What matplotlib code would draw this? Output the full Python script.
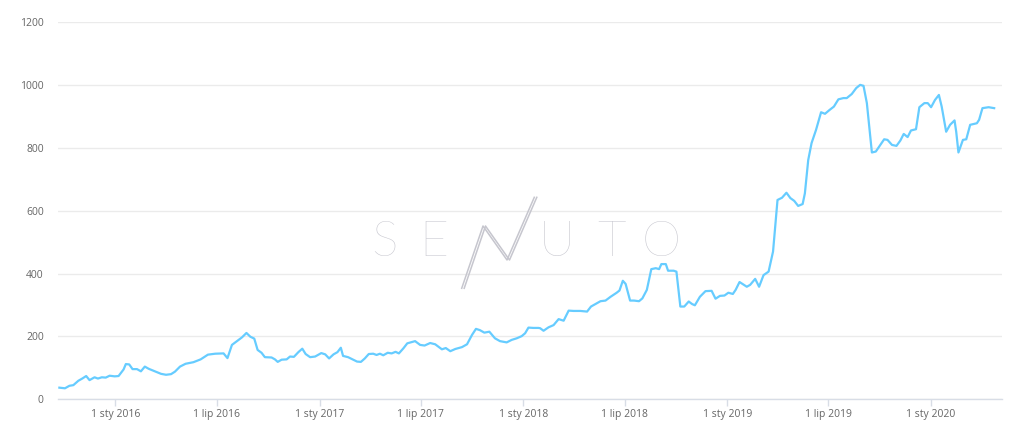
import matplotlib
matplotlib.use("Agg")

import matplotlib.pyplot as plt
import pandas as pd
from matplotlib.lines import Line2D

dates = [
    "2015-09-23", "2015-10-03", "2015-10-11", "2015-10-18", "2015-10-27", "2015-11-03",
    "2015-11-10", "2015-11-16", "2015-11-25", "2015-12-01", "2015-12-08", "2015-12-15",
    "2015-12-22", "2015-12-31", "2016-01-07", "2016-01-16", "2016-01-20", "2016-01-26",
    "2016-02-01", "2016-02-09", "2016-02-16", "2016-02-23", "2016-03-01", "2016-03-12",
    "2016-03-23", "2016-04-01", "2016-04-10", "2016-04-17", "2016-04-26", "2016-05-06",
    "2016-05-20", "2016-06-02", "2016-06-15", "2016-06-28", "2016-07-13", "2016-07-20",
    "2016-07-28", "2016-08-06", "2016-08-15", "2016-08-23", "2016-08-30", "2016-09-06",
    "2016-09-12", "2016-09-19", "2016-09-25", "2016-10-07", "2016-10-13", "2016-10-18",
    "2016-10-25", "2016-11-03", "2016-11-09", "2016-11-16", "2016-11-24", "2016-12-01",
    "2016-12-07", "2016-12-15", "2016-12-24", "2017-01-04", "2017-01-11", "2017-01-18",
    "2017-01-26", "2017-02-02", "2017-02-08", "2017-02-12", "2017-02-21", "2017-03-01",
    "2017-03-09", "2017-03-16", "2017-03-23", "2017-03-30", "2017-04-07", "2017-04-13",
    "2017-04-19", "2017-04-25", "2017-05-03", "2017-05-10", "2017-05-17", "2017-05-23",
    "2017-05-31", "2017-06-07", "2017-06-21", "2017-06-30", "2017-07-08", "2017-07-18",
    "2017-07-27", "2017-08-08", "2017-08-15", "2017-08-23", "2017-09-01", "2017-09-13",
    "2017-09-22", "2017-10-01", "2017-10-08", "2017-10-15", "2017-10-23", "2017-11-01",
    "2017-11-11", "2017-11-20", "2017-12-02", "2017-12-11", "2017-12-20", "2017-12-29",
    "2018-01-04", "2018-01-10", "2018-01-19", "2018-01-28", "2018-01-31", "2018-02-06",
    "2018-02-15", "2018-02-24", "2018-03-05", "2018-03-14", "2018-03-23", "2018-04-01",
    "2018-04-13", "2018-04-25", "2018-05-02", "2018-05-10", "2018-05-19", "2018-05-28",
    "2018-06-06", "2018-06-17", "2018-06-22", "2018-06-28", "2018-07-03", "2018-07-11",
    "2018-07-18", "2018-07-27", "2018-08-02", "2018-08-10", "2018-08-18", "2018-08-26",
    "2018-09-01", "2018-09-05", "2018-09-13", "2018-09-17", "2018-09-27", "2018-10-02",
    "2018-10-09", "2018-10-16", "2018-10-24", "2018-10-30", "2018-11-04", "2018-11-13",
    "2018-11-23", "2018-12-04", "2018-12-11", "2018-12-19", "2018-12-27", "2019-01-03",
    "2019-01-11", "2019-01-16", "2019-01-23", "2019-02-05", "2019-02-11", "2019-02-20",
    "2019-02-27", "2019-03-07", "2019-03-16", "2019-03-24", "2019-04-01", "2019-04-09",
    "2019-04-17", "2019-04-24", "2019-05-01", "2019-05-08", "2019-05-16", "2019-05-20",
    "2019-05-26", "2019-06-01", "2019-06-09", "2019-06-18", "2019-06-25", "2019-07-03",
    "2019-07-11", "2019-07-19", "2019-07-28", "2019-08-03", "2019-08-12", "2019-08-20",
    "2019-08-27", "2019-09-02", "2019-09-08", "2019-09-17", "2019-09-24", "2019-10-01",
    "2019-10-09", "2019-10-15", "2019-10-23", "2019-10-31", "2019-11-07", "2019-11-13",
    "2019-11-20", "2019-11-26", "2019-12-05", "2019-12-11", "2019-12-20", "2019-12-26",
    "2020-01-01", "2020-01-08", "2020-01-15", "2020-01-20", "2020-01-28", "2020-02-04",
    "2020-02-12", "2020-02-15", "2020-02-19", "2020-02-27", "2020-03-04", "2020-03-11",
    "2020-03-23", "2020-03-27", "2020-04-02", "2020-04-13", "2020-04-23",
]
values = [
    37, 35, 43, 45, 59, 66,
    74, 61, 70, 66, 70, 69,
    75, 73, 74, 95, 112, 111,
    96, 96, 89, 104, 97, 89,
    81, 78, 80, 88, 104, 113,
    118, 127, 142, 145, 146, 131,
    173, 185, 197, 211, 199, 193,
    157, 148, 134, 133, 127, 119,
    126, 127, 136, 135, 150, 161,
    144, 134, 136, 147, 143, 130,
    143, 150, 164, 138, 134, 127,
    120, 119, 130, 144, 145, 141,
    145, 140, 148, 146, 151, 146,
    162, 178, 185, 173, 171, 179,
    175, 159, 163, 153, 160, 166,
    175, 205, 224, 220, 212, 215,
    194, 185, 181, 189, 194, 201,
    210, 228, 227, 227, 226, 218,
    229, 236, 255, 250, 282, 281,
    281, 279, 295, 303, 312, 314,
    326, 339, 346, 377, 367, 314,
    314, 312, 321, 348, 414, 417,
    414, 430, 430, 409, 409, 406,
    295, 295, 311, 303, 299, 326,
    344, 345, 320, 329, 330, 339,
    335, 348, 373, 358, 364, 383,
    358, 395, 406, 470, 634, 641,
    657, 640, 631, 615, 621, 655,
    761, 815, 857, 913, 908, 920,
    931, 954, 958, 958, 971, 990,
    1000, 997, 942, 785, 788, 806,
    827, 825, 809, 806, 823, 844,
    834, 855, 859, 929, 942, 942,
    929, 952, 968, 931, 851, 873,
    887, 851, 785, 825, 827, 873,
    878, 889, 926, 929, 926,
]

tick_dates = ["2016-01-01", "2016-07-01", "2017-01-01", "2017-07-01", "2018-01-01",
              "2018-07-01", "2019-01-01", "2019-07-01", "2020-01-01"]
tick_labels = ["1 sty 2016", "1 lip 2016", "1 sty 2017", "1 lip 2017", "1 sty 2018",
               "1 lip 2018", "1 sty 2019", "1 lip 2019", "1 sty 2020"]
y_ticks = [0, 200, 400, 600, 800, 1000, 1200]

plt.rcParams["font.family"] = ["Open Sans", "DejaVu Sans"]

W, H = 1024, 426
fig = plt.figure(figsize=(W / 100, H / 100), dpi=100)
ax = fig.add_axes([57.7 / W, 1 - 399.3 / H, (1002 - 57.7) / W, (399.3 - 22) / H])

x = pd.to_datetime(dates)
ax.plot(x, values, color="#66ccff", lw=1.6, solid_joinstyle="round", zorder=3)

ax.set_ylim(0, 1200)
ax.set_xlim(pd.Timestamp("2015-09-20"), pd.Timestamp("2020-05-07"))
ax.set_yticks(y_ticks)
ax.set_yticklabels([str(v) for v in y_ticks])
ax.set_xticks(pd.to_datetime(tick_dates))
ax.set_xticklabels(tick_labels)

ax.grid(axis="y", color="#ebebeb", lw=1)
ax.set_axisbelow(True)
for s in ["top", "right", "left"]:
    ax.spines[s].set_visible(False)
ax.spines["bottom"].set_color("#d8dde6")
ax.spines["bottom"].set_linewidth(1)
ax.tick_params(axis="y", length=0, pad=10, labelsize=7.5, labelcolor="#666666")
ax.tick_params(axis="x", length=5, width=1, color="#d8dde6", pad=2,
               labelsize=7.5, labelcolor="#666666")

# SENUTO watermark
wm = "#c6c6ce"
for ch, cx in [("S", 384), ("E", 434), ("U", 557), ("T", 612), ("O", 661)]:
    fig.text(cx / W, 1 - 243 / H, ch, ha="center", va="center", fontsize=36,
             color=wm, family=["Lato", "DejaVu Sans"], fontweight="light", zorder=1)

def px(pts, dx=0):
    return [(p[0] + dx) / W for p in pts], [1 - p[1] / H for p in pts]

n_pts = [(461.7, 288.3), (483, 226), (507, 260), (534.3, 197.3)]
for dx in (0, 2.5):
    xs, ys = px(n_pts, dx)
    fig.lines.append(Line2D(xs, ys, transform=fig.transFigure, color=wm, lw=1.1))

fig.savefig("out.png", dpi=100)
